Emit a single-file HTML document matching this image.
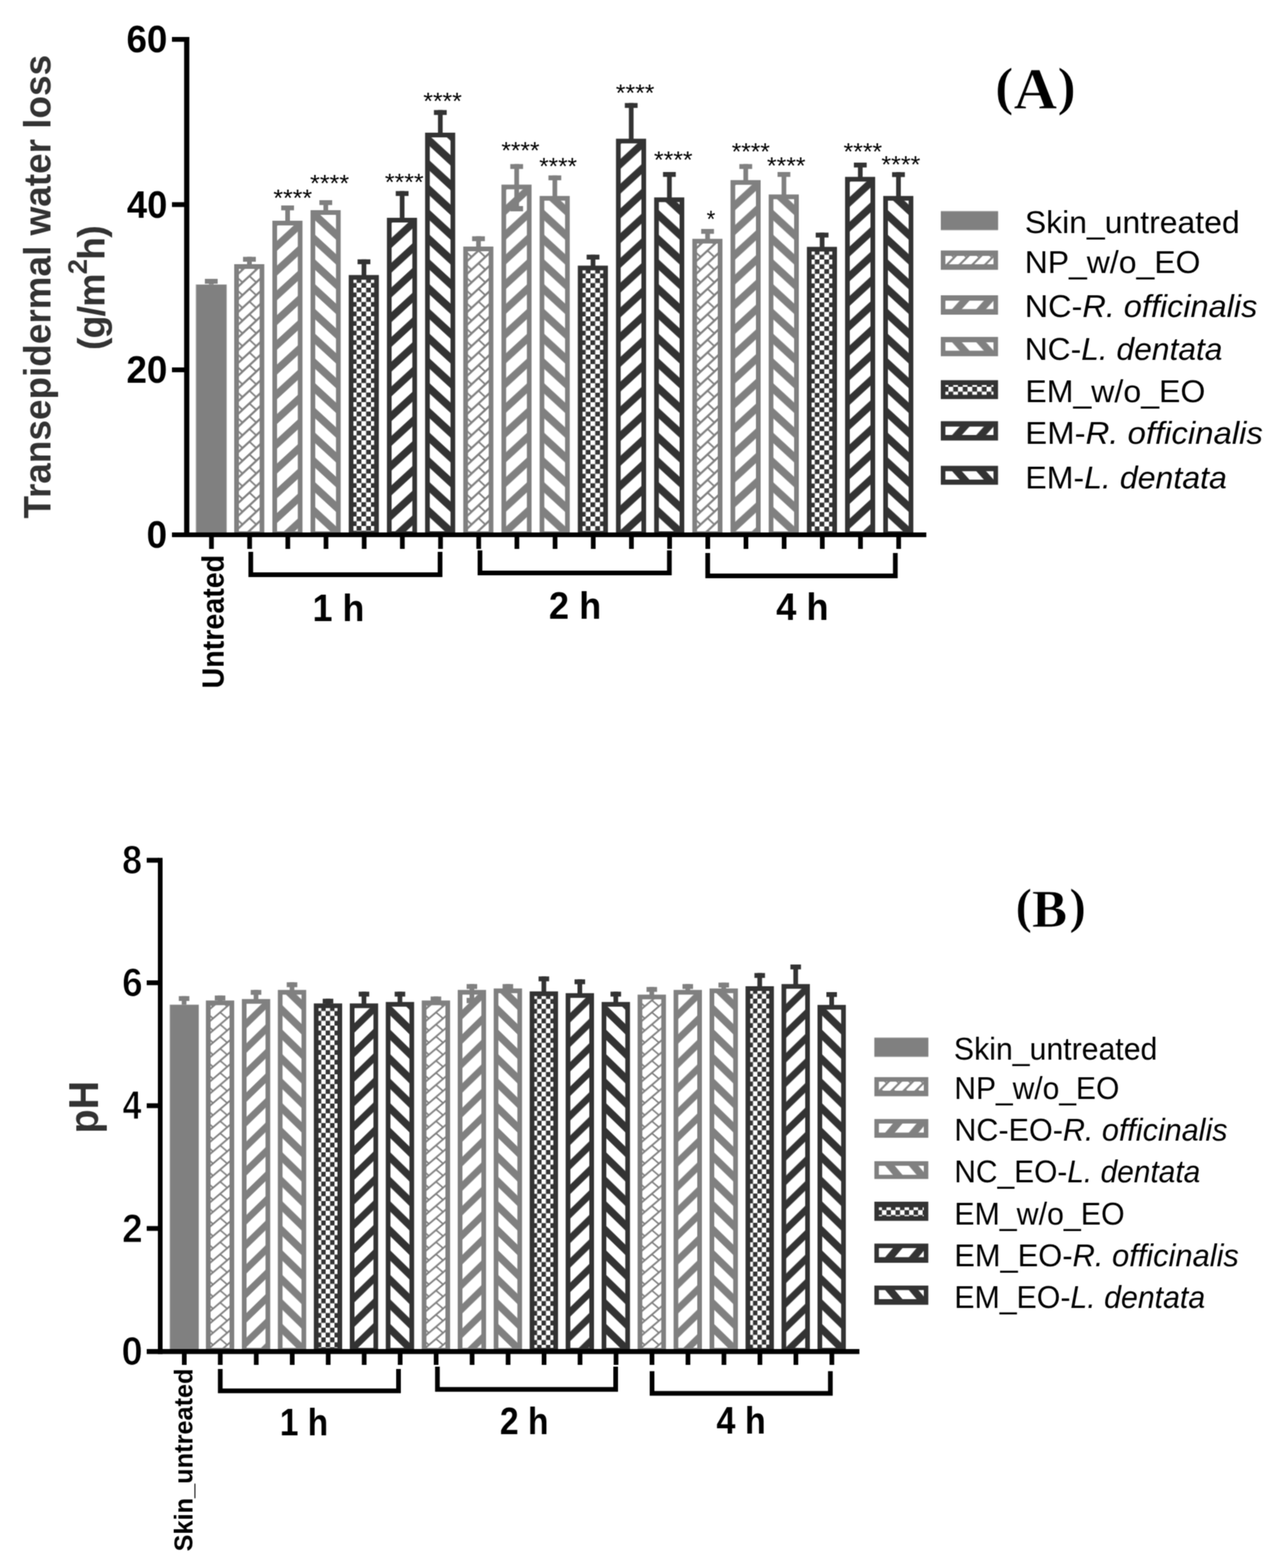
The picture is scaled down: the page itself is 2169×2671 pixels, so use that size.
<!DOCTYPE html>
<html lang="en"><head><meta charset="utf-8"><title>Transepidermal water loss and pH</title>
<style>html,body{margin:0;padding:0;background:#fff}body{width:2169px;height:2671px;overflow:hidden}svg{display:block}text{white-space:pre}</style>
</head><body>
<svg width="2169" height="2671" viewBox="0 0 2169 2671">
<defs>
<filter id="soft" x="0" y="0" width="2169" height="2671" filterUnits="userSpaceOnUse" color-interpolation-filters="sRGB"><feConvolveMatrix order="3" kernelMatrix="1 2 1 2 4 2 1 2 1" divisor="16" edgeMode="duplicate" preserveAlpha="true"/></filter>
<pattern id="upGA" patternUnits="userSpaceOnUse" width="45.8" height="42.15"><rect width="45.8" height="42.15" fill="#fff"/><g fill="#808080"><polygon points="-46.49,-42.15 -28.17,-42.15 -165.57,84.30 -183.89,84.30"/><polygon points="-0.69,-42.15 17.63,-42.15 -119.77,84.30 -138.09,84.30"/><polygon points="45.11,-42.15 63.43,-42.15 -73.97,84.30 -92.29,84.30"/><polygon points="90.91,-42.15 109.23,-42.15 -28.17,84.30 -46.49,84.30"/><polygon points="136.71,-42.15 155.03,-42.15 17.63,84.30 -0.69,84.30"/><polygon points="182.51,-42.15 200.83,-42.15 63.43,84.30 45.11,84.30"/></g></pattern>
<pattern id="downGA" patternUnits="userSpaceOnUse" width="45.8" height="42.15"><rect width="45.8" height="42.15" fill="#fff"/><g fill="#808080"><polygon points="-45.80,-178.93 -45.80,-161.22 91.60,-34.77 91.60,-52.48"/><polygon points="-45.80,-136.78 -45.80,-119.07 91.60,7.38 91.60,-10.33"/><polygon points="-45.80,-94.63 -45.80,-76.92 91.60,49.53 91.60,31.82"/><polygon points="-45.80,-52.48 -45.80,-34.77 91.60,91.68 91.60,73.97"/><polygon points="-45.80,-10.33 -45.80,7.38 91.60,133.83 91.60,116.12"/><polygon points="-45.80,31.82 -45.80,49.53 91.60,175.98 91.60,158.27"/></g></pattern>
<pattern id="upGAL" patternUnits="userSpaceOnUse" width="41.2" height="45.8"><rect width="41.2" height="45.8" fill="#fff"/><g fill="#808080"><polygon points="-16.87,-45.80 -0.19,-45.80 -123.79,91.60 -140.47,91.60"/><polygon points="24.33,-45.80 41.01,-45.80 -82.59,91.60 -99.27,91.60"/><polygon points="65.53,-45.80 82.21,-45.80 -41.39,91.60 -58.07,91.60"/><polygon points="106.73,-45.80 123.41,-45.80 -0.19,91.60 -16.87,91.60"/><polygon points="147.93,-45.80 164.61,-45.80 41.01,91.60 24.33,91.60"/><polygon points="189.13,-45.80 205.81,-45.80 82.21,91.60 65.53,91.60"/></g></pattern>
<pattern id="downGAL" patternUnits="userSpaceOnUse" width="41.2" height="45.8"><rect width="41.2" height="45.8" fill="#fff"/><g fill="#808080"><polygon points="-41.20,-182.99 -41.20,-164.44 82.40,-27.04 82.40,-45.59"/><polygon points="-41.20,-137.19 -41.20,-118.64 82.40,18.76 82.40,0.21"/><polygon points="-41.20,-91.39 -41.20,-72.84 82.40,64.56 82.40,46.01"/><polygon points="-41.20,-45.59 -41.20,-27.04 82.40,110.36 82.40,91.81"/><polygon points="-41.20,0.21 -41.20,18.76 82.40,156.16 82.40,137.61"/><polygon points="-41.20,46.01 -41.20,64.56 82.40,201.96 82.40,183.41"/></g></pattern>
<pattern id="upGB" patternUnits="userSpaceOnUse" width="42.75" height="41.77"><rect width="42.75" height="41.77" fill="#fff"/><g fill="#808080"><polygon points="-43.28,-41.77 -26.83,-41.77 -155.08,83.54 -171.53,83.54"/><polygon points="-0.53,-41.77 15.92,-41.77 -112.33,83.54 -128.78,83.54"/><polygon points="42.22,-41.77 58.67,-41.77 -69.58,83.54 -86.03,83.54"/><polygon points="84.97,-41.77 101.42,-41.77 -26.83,83.54 -43.28,83.54"/><polygon points="127.72,-41.77 144.17,-41.77 15.92,83.54 -0.53,83.54"/><polygon points="170.47,-41.77 186.92,-41.77 58.67,83.54 42.22,83.54"/></g></pattern>
<pattern id="downGB" patternUnits="userSpaceOnUse" width="42.75" height="41.77"><rect width="42.75" height="41.77" fill="#fff"/><g fill="#808080"><polygon points="-42.75,-177.52 -42.75,-159.98 85.50,-34.67 85.50,-52.21"/><polygon points="-42.75,-135.75 -42.75,-118.21 85.50,7.10 85.50,-10.44"/><polygon points="-42.75,-93.98 -42.75,-76.44 85.50,48.87 85.50,31.33"/><polygon points="-42.75,-52.21 -42.75,-34.67 85.50,90.64 85.50,73.10"/><polygon points="-42.75,-10.44 -42.75,7.10 85.50,132.41 85.50,114.87"/><polygon points="-42.75,31.33 -42.75,48.87 85.50,174.18 85.50,156.64"/></g></pattern>
<pattern id="upGBL" patternUnits="userSpaceOnUse" width="40.3" height="47.9"><rect width="40.3" height="47.9" fill="#fff"/><g fill="#808080"><polygon points="-16.50,-47.90 -0.18,-47.90 -121.08,95.80 -137.40,95.80"/><polygon points="23.80,-47.90 40.12,-47.90 -80.78,95.80 -97.10,95.80"/><polygon points="64.10,-47.90 80.42,-47.90 -40.48,95.80 -56.80,95.80"/><polygon points="104.40,-47.90 120.72,-47.90 -0.18,95.80 -16.50,95.80"/><polygon points="144.70,-47.90 161.02,-47.90 40.12,95.80 23.80,95.80"/><polygon points="185.00,-47.90 201.32,-47.90 80.42,95.80 64.10,95.80"/></g></pattern>
<pattern id="downGBL" patternUnits="userSpaceOnUse" width="40.3" height="47.9"><rect width="40.3" height="47.9" fill="#fff"/><g fill="#808080"><polygon points="-40.30,-191.38 -40.30,-171.98 80.60,-28.28 80.60,-47.68"/><polygon points="-40.30,-143.48 -40.30,-124.08 80.60,19.62 80.60,0.22"/><polygon points="-40.30,-95.58 -40.30,-76.18 80.60,67.52 80.60,48.12"/><polygon points="-40.30,-47.68 -40.30,-28.28 80.60,115.42 80.60,96.02"/><polygon points="-40.30,0.22 -40.30,19.62 80.60,163.32 80.60,143.92"/><polygon points="-40.30,48.12 -40.30,67.52 80.60,211.22 80.60,191.82"/></g></pattern>
<pattern id="upDA" patternUnits="userSpaceOnUse" width="45.8" height="42.15"><rect width="45.8" height="42.15" fill="#fff"/><g fill="#333333"><polygon points="-46.49,-42.15 -28.17,-42.15 -165.57,84.30 -183.89,84.30"/><polygon points="-0.69,-42.15 17.63,-42.15 -119.77,84.30 -138.09,84.30"/><polygon points="45.11,-42.15 63.43,-42.15 -73.97,84.30 -92.29,84.30"/><polygon points="90.91,-42.15 109.23,-42.15 -28.17,84.30 -46.49,84.30"/><polygon points="136.71,-42.15 155.03,-42.15 17.63,84.30 -0.69,84.30"/><polygon points="182.51,-42.15 200.83,-42.15 63.43,84.30 45.11,84.30"/></g></pattern>
<pattern id="downDA" patternUnits="userSpaceOnUse" width="45.8" height="42.15"><rect width="45.8" height="42.15" fill="#fff"/><g fill="#333333"><polygon points="-45.80,-178.93 -45.80,-161.22 91.60,-34.77 91.60,-52.48"/><polygon points="-45.80,-136.78 -45.80,-119.07 91.60,7.38 91.60,-10.33"/><polygon points="-45.80,-94.63 -45.80,-76.92 91.60,49.53 91.60,31.82"/><polygon points="-45.80,-52.48 -45.80,-34.77 91.60,91.68 91.60,73.97"/><polygon points="-45.80,-10.33 -45.80,7.38 91.60,133.83 91.60,116.12"/><polygon points="-45.80,31.82 -45.80,49.53 91.60,175.98 91.60,158.27"/></g></pattern>
<pattern id="upDAL" patternUnits="userSpaceOnUse" width="41.2" height="45.8"><rect width="41.2" height="45.8" fill="#fff"/><g fill="#333333"><polygon points="-16.87,-45.80 -0.19,-45.80 -123.79,91.60 -140.47,91.60"/><polygon points="24.33,-45.80 41.01,-45.80 -82.59,91.60 -99.27,91.60"/><polygon points="65.53,-45.80 82.21,-45.80 -41.39,91.60 -58.07,91.60"/><polygon points="106.73,-45.80 123.41,-45.80 -0.19,91.60 -16.87,91.60"/><polygon points="147.93,-45.80 164.61,-45.80 41.01,91.60 24.33,91.60"/><polygon points="189.13,-45.80 205.81,-45.80 82.21,91.60 65.53,91.60"/></g></pattern>
<pattern id="downDAL" patternUnits="userSpaceOnUse" width="41.2" height="45.8"><rect width="41.2" height="45.8" fill="#fff"/><g fill="#333333"><polygon points="-41.20,-182.99 -41.20,-164.44 82.40,-27.04 82.40,-45.59"/><polygon points="-41.20,-137.19 -41.20,-118.64 82.40,18.76 82.40,0.21"/><polygon points="-41.20,-91.39 -41.20,-72.84 82.40,64.56 82.40,46.01"/><polygon points="-41.20,-45.59 -41.20,-27.04 82.40,110.36 82.40,91.81"/><polygon points="-41.20,0.21 -41.20,18.76 82.40,156.16 82.40,137.61"/><polygon points="-41.20,46.01 -41.20,64.56 82.40,201.96 82.40,183.41"/></g></pattern>
<pattern id="upDB" patternUnits="userSpaceOnUse" width="42.75" height="41.77"><rect width="42.75" height="41.77" fill="#fff"/><g fill="#333333"><polygon points="-43.28,-41.77 -26.83,-41.77 -155.08,83.54 -171.53,83.54"/><polygon points="-0.53,-41.77 15.92,-41.77 -112.33,83.54 -128.78,83.54"/><polygon points="42.22,-41.77 58.67,-41.77 -69.58,83.54 -86.03,83.54"/><polygon points="84.97,-41.77 101.42,-41.77 -26.83,83.54 -43.28,83.54"/><polygon points="127.72,-41.77 144.17,-41.77 15.92,83.54 -0.53,83.54"/><polygon points="170.47,-41.77 186.92,-41.77 58.67,83.54 42.22,83.54"/></g></pattern>
<pattern id="downDB" patternUnits="userSpaceOnUse" width="42.75" height="41.77"><rect width="42.75" height="41.77" fill="#fff"/><g fill="#333333"><polygon points="-42.75,-177.52 -42.75,-159.98 85.50,-34.67 85.50,-52.21"/><polygon points="-42.75,-135.75 -42.75,-118.21 85.50,7.10 85.50,-10.44"/><polygon points="-42.75,-93.98 -42.75,-76.44 85.50,48.87 85.50,31.33"/><polygon points="-42.75,-52.21 -42.75,-34.67 85.50,90.64 85.50,73.10"/><polygon points="-42.75,-10.44 -42.75,7.10 85.50,132.41 85.50,114.87"/><polygon points="-42.75,31.33 -42.75,48.87 85.50,174.18 85.50,156.64"/></g></pattern>
<pattern id="upDBL" patternUnits="userSpaceOnUse" width="40.3" height="47.9"><rect width="40.3" height="47.9" fill="#fff"/><g fill="#333333"><polygon points="-16.50,-47.90 -0.18,-47.90 -121.08,95.80 -137.40,95.80"/><polygon points="23.80,-47.90 40.12,-47.90 -80.78,95.80 -97.10,95.80"/><polygon points="64.10,-47.90 80.42,-47.90 -40.48,95.80 -56.80,95.80"/><polygon points="104.40,-47.90 120.72,-47.90 -0.18,95.80 -16.50,95.80"/><polygon points="144.70,-47.90 161.02,-47.90 40.12,95.80 23.80,95.80"/><polygon points="185.00,-47.90 201.32,-47.90 80.42,95.80 64.10,95.80"/></g></pattern>
<pattern id="downDBL" patternUnits="userSpaceOnUse" width="40.3" height="47.9"><rect width="40.3" height="47.9" fill="#fff"/><g fill="#333333"><polygon points="-40.30,-191.38 -40.30,-171.98 80.60,-28.28 80.60,-47.68"/><polygon points="-40.30,-143.48 -40.30,-124.08 80.60,19.62 80.60,0.22"/><polygon points="-40.30,-95.58 -40.30,-76.18 80.60,67.52 80.60,48.12"/><polygon points="-40.30,-47.68 -40.30,-28.28 80.60,115.42 80.60,96.02"/><polygon points="-40.30,0.22 -40.30,19.62 80.60,163.32 80.60,143.92"/><polygon points="-40.30,48.12 -40.30,67.52 80.60,211.22 80.60,191.82"/></g></pattern>
<pattern id="checkA" patternUnits="userSpaceOnUse" x="5.30" y="5.30" width="16.24" height="16.24"><rect width="16.24" height="16.24" fill="#fff"/><rect x="8.12" y="0" width="8.12" height="8.12" fill="#333333"/><rect x="0" y="8.12" width="8.12" height="8.12" fill="#333333"/></pattern>
<pattern id="checkB" patternUnits="userSpaceOnUse" x="5.20" y="4.60" width="15.0" height="16.6"><rect width="15.0" height="16.6" fill="#fff"/><rect x="7.5" y="0" width="7.5" height="8.3" fill="#333333"/><rect x="0" y="8.3" width="7.5" height="8.3" fill="#333333"/></pattern>
<pattern id="checkAL" patternUnits="userSpaceOnUse" x="5.20" y="3.00" width="16.24" height="16.4"><rect width="16.24" height="16.4" fill="#fff"/><rect x="8.12" y="0" width="8.12" height="8.2" fill="#333333"/><rect x="0" y="8.2" width="8.12" height="8.2" fill="#333333"/></pattern>
<pattern id="checkBL" patternUnits="userSpaceOnUse" x="5.20" y="4.80" width="15.4" height="16.6"><rect width="15.4" height="16.6" fill="#fff"/><rect x="7.7" y="0" width="7.7" height="8.3" fill="#333333"/><rect x="0" y="8.3" width="7.7" height="8.3" fill="#333333"/></pattern>
<pattern id="brickA" patternUnits="userSpaceOnUse" x="14.20" y="-15.60" width="23.4" height="21.7"><rect width="23.4" height="21.7" fill="#fff"/><g stroke="#808080" stroke-width="3.5"><line x1="-23.40" y1="21.70" x2="46.80" y2="-43.40"/><line x1="-23.40" y1="43.40" x2="46.80" y2="-21.70"/><line x1="-23.40" y1="65.10" x2="46.80" y2="0.00"/><line x1="-23.40" y1="86.80" x2="46.80" y2="21.70"/></g><g stroke="#808080" stroke-width="3.0"><line x1="-11.70" y1="-10.85" x2="0.00" y2="0.00"/><line x1="-11.70" y1="10.85" x2="0.00" y2="21.70"/><line x1="-11.70" y1="32.55" x2="0.00" y2="43.40"/><line x1="11.70" y1="-10.85" x2="23.40" y2="0.00"/><line x1="11.70" y1="10.85" x2="23.40" y2="21.70"/><line x1="11.70" y1="32.55" x2="23.40" y2="43.40"/><line x1="35.10" y1="-10.85" x2="46.80" y2="0.00"/><line x1="35.10" y1="10.85" x2="46.80" y2="21.70"/><line x1="35.10" y1="32.55" x2="46.80" y2="43.40"/></g></pattern>
<pattern id="brickB" patternUnits="userSpaceOnUse" x="12.25" y="11.60" width="24.1" height="20.6"><rect width="24.1" height="20.6" fill="#fff"/><g stroke="#808080" stroke-width="3.0"><line x1="-24.10" y1="20.60" x2="48.20" y2="-41.20"/><line x1="-24.10" y1="41.20" x2="48.20" y2="-20.60"/><line x1="-24.10" y1="61.80" x2="48.20" y2="0.00"/><line x1="-24.10" y1="82.40" x2="48.20" y2="20.60"/></g><g stroke="#808080" stroke-width="2.7"><line x1="-12.05" y1="-10.30" x2="0.00" y2="0.00"/><line x1="-12.05" y1="10.30" x2="0.00" y2="20.60"/><line x1="-12.05" y1="30.90" x2="0.00" y2="41.20"/><line x1="12.05" y1="-10.30" x2="24.10" y2="0.00"/><line x1="12.05" y1="10.30" x2="24.10" y2="20.60"/><line x1="12.05" y1="30.90" x2="24.10" y2="41.20"/><line x1="36.15" y1="-10.30" x2="48.20" y2="0.00"/><line x1="36.15" y1="10.30" x2="48.20" y2="20.60"/><line x1="36.15" y1="30.90" x2="48.20" y2="41.20"/></g></pattern>
<pattern id="brickAL" patternUnits="userSpaceOnUse" x="-7.00" y="3.00" width="21.65" height="21.65"><rect width="21.65" height="21.65" fill="#fff"/><g stroke="#808080" stroke-width="3.4"><line x1="-21.65" y1="21.65" x2="43.30" y2="-43.30"/><line x1="-21.65" y1="43.30" x2="43.30" y2="-21.65"/><line x1="-21.65" y1="64.95" x2="43.30" y2="0.00"/><line x1="-21.65" y1="86.60" x2="43.30" y2="21.65"/></g><g stroke="#808080" stroke-width="2.4"><line x1="-10.82" y1="-10.82" x2="0.00" y2="0.00"/><line x1="-10.82" y1="10.82" x2="0.00" y2="21.65"/><line x1="-10.82" y1="32.47" x2="0.00" y2="43.30"/><line x1="10.82" y1="-10.82" x2="21.65" y2="0.00"/><line x1="10.82" y1="10.82" x2="21.65" y2="21.65"/><line x1="10.82" y1="32.47" x2="21.65" y2="43.30"/><line x1="32.47" y1="-10.82" x2="43.30" y2="0.00"/><line x1="32.47" y1="10.82" x2="43.30" y2="21.65"/><line x1="32.47" y1="32.47" x2="43.30" y2="43.30"/></g></pattern>
<pattern id="brickBL" patternUnits="userSpaceOnUse" x="-7.00" y="3.00" width="20.6" height="20.6"><rect width="20.6" height="20.6" fill="#fff"/><g stroke="#808080" stroke-width="3.4"><line x1="-20.60" y1="20.60" x2="41.20" y2="-41.20"/><line x1="-20.60" y1="41.20" x2="41.20" y2="-20.60"/><line x1="-20.60" y1="61.80" x2="41.20" y2="0.00"/><line x1="-20.60" y1="82.40" x2="41.20" y2="20.60"/></g><g stroke="#808080" stroke-width="2.4"><line x1="-10.30" y1="-10.30" x2="0.00" y2="0.00"/><line x1="-10.30" y1="10.30" x2="0.00" y2="20.60"/><line x1="-10.30" y1="30.90" x2="0.00" y2="41.20"/><line x1="10.30" y1="-10.30" x2="20.60" y2="0.00"/><line x1="10.30" y1="10.30" x2="20.60" y2="20.60"/><line x1="10.30" y1="30.90" x2="20.60" y2="41.20"/><line x1="30.90" y1="-10.30" x2="41.20" y2="0.00"/><line x1="30.90" y1="10.30" x2="41.20" y2="20.60"/><line x1="30.90" y1="30.90" x2="41.20" y2="41.20"/></g></pattern>
</defs>
<g filter="url(#soft)">
<rect width="2169" height="2671" fill="#fff"/>
<g id="chartA">
<rect x="355.95" y="475.00" width="8.0" height="12.00" fill="#808080"/>
<rect x="349.05" y="475.00" width="21.8" height="8.3" fill="#808080"/>
<rect x="333.40" y="484.50" width="53.10" height="424.50" fill="#b4b4b4"/>
<rect x="334.60" y="485.00" width="51.10" height="424.00" fill="#808080"/>
<rect x="421.00" y="437.50" width="8.0" height="14.50" fill="#808080"/>
<rect x="414.10" y="437.50" width="21.8" height="8.3" fill="#808080"/>
<g transform="translate(399.05 909.00)"><rect x="4.00" y="-455.00" width="43.30" height="455.00" fill="url(#brickA)" stroke="#808080" stroke-width="8.0"/></g>
<rect x="486.05" y="350.00" width="8.0" height="28.00" fill="#808080"/>
<rect x="479.15" y="350.00" width="21.8" height="8.3" fill="#808080"/>
<g transform="translate(464.10 376.00)"><rect x="4.00" y="4.00" width="43.30" height="529.00" fill="url(#upGA)" stroke="#808080" stroke-width="8.0"/></g>
<rect x="551.10" y="341.00" width="8.0" height="19.00" fill="#808080"/>
<rect x="544.20" y="341.00" width="21.8" height="8.3" fill="#808080"/>
<g transform="translate(529.15 909.00)"><rect x="4.00" y="-547.00" width="43.30" height="547.00" fill="url(#downGA)" stroke="#808080" stroke-width="8.0"/></g>
<rect x="616.15" y="441.80" width="8.0" height="28.70" fill="#333333"/>
<rect x="609.25" y="441.80" width="21.8" height="8.3" fill="#333333"/>
<g transform="translate(594.20 468.50)"><rect x="4.00" y="4.00" width="43.30" height="436.50" fill="url(#checkA)" stroke="#333333" stroke-width="8.0"/></g>
<rect x="681.20" y="325.50" width="8.0" height="47.50" fill="#333333"/>
<rect x="674.30" y="325.50" width="21.8" height="8.3" fill="#333333"/>
<g transform="translate(659.25 371.00)"><rect x="4.00" y="4.00" width="43.30" height="534.00" fill="url(#upDA)" stroke="#333333" stroke-width="8.0"/></g>
<rect x="746.25" y="187.50" width="8.0" height="40.50" fill="#333333"/>
<rect x="739.35" y="187.50" width="21.8" height="8.3" fill="#333333"/>
<g transform="translate(724.30 909.00)"><rect x="4.00" y="-679.00" width="43.30" height="679.00" fill="url(#downDA)" stroke="#333333" stroke-width="8.0"/></g>
<rect x="811.30" y="402.50" width="8.0" height="19.50" fill="#808080"/>
<rect x="804.40" y="402.50" width="21.8" height="8.3" fill="#808080"/>
<g transform="translate(789.35 909.00)"><rect x="4.00" y="-485.00" width="43.30" height="485.00" fill="url(#brickA)" stroke="#808080" stroke-width="8.0"/></g>
<rect x="876.35" y="279.50" width="8.0" height="37.00" fill="#808080"/>
<rect x="869.45" y="279.50" width="21.8" height="8.3" fill="#808080"/>
<g transform="translate(854.40 314.50)"><rect x="4.00" y="4.00" width="43.30" height="590.50" fill="url(#upGA)" stroke="#808080" stroke-width="8.0"/></g>
<rect x="876.35" y="314.50" width="8.0" height="45.50" fill="#808080"/>
<rect x="869.45" y="351.00" width="21.8" height="9.0" fill="#808080"/>
<rect x="941.40" y="298.80" width="8.0" height="37.00" fill="#808080"/>
<rect x="934.50" y="298.80" width="21.8" height="8.3" fill="#808080"/>
<g transform="translate(919.45 909.00)"><rect x="4.00" y="-571.20" width="43.30" height="571.20" fill="url(#downGA)" stroke="#808080" stroke-width="8.0"/></g>
<rect x="1006.45" y="433.80" width="8.0" height="20.70" fill="#333333"/>
<rect x="999.55" y="433.80" width="21.8" height="8.3" fill="#333333"/>
<g transform="translate(984.50 452.50)"><rect x="4.00" y="4.00" width="43.30" height="452.50" fill="url(#checkA)" stroke="#333333" stroke-width="8.0"/></g>
<rect x="1071.50" y="175.50" width="8.0" height="62.80" fill="#333333"/>
<rect x="1064.60" y="175.50" width="21.8" height="8.3" fill="#333333"/>
<g transform="translate(1049.55 236.30)"><rect x="4.00" y="4.00" width="43.30" height="668.70" fill="url(#upDA)" stroke="#333333" stroke-width="8.0"/></g>
<rect x="1136.55" y="293.00" width="8.0" height="45.30" fill="#333333"/>
<rect x="1129.65" y="293.00" width="21.8" height="8.3" fill="#333333"/>
<g transform="translate(1114.60 909.00)"><rect x="4.00" y="-568.70" width="43.30" height="568.70" fill="url(#downDA)" stroke="#333333" stroke-width="8.0"/></g>
<rect x="1201.60" y="390.00" width="8.0" height="18.80" fill="#808080"/>
<rect x="1194.70" y="390.00" width="21.8" height="8.3" fill="#808080"/>
<g transform="translate(1179.65 909.00)"><rect x="4.00" y="-498.20" width="43.30" height="498.20" fill="url(#brickA)" stroke="#808080" stroke-width="8.0"/></g>
<rect x="1266.65" y="279.50" width="8.0" height="29.30" fill="#808080"/>
<rect x="1259.75" y="279.50" width="21.8" height="8.3" fill="#808080"/>
<g transform="translate(1244.70 306.80)"><rect x="4.00" y="4.00" width="43.30" height="598.20" fill="url(#upGA)" stroke="#808080" stroke-width="8.0"/></g>
<rect x="1331.70" y="293.00" width="8.0" height="40.30" fill="#808080"/>
<rect x="1324.80" y="293.00" width="21.8" height="8.3" fill="#808080"/>
<g transform="translate(1309.75 909.00)"><rect x="4.00" y="-573.70" width="43.30" height="573.70" fill="url(#downGA)" stroke="#808080" stroke-width="8.0"/></g>
<rect x="1396.75" y="396.30" width="8.0" height="26.20" fill="#333333"/>
<rect x="1389.85" y="396.30" width="21.8" height="8.3" fill="#333333"/>
<g transform="translate(1374.80 420.50)"><rect x="4.00" y="4.00" width="43.30" height="484.50" fill="url(#checkA)" stroke="#333333" stroke-width="8.0"/></g>
<rect x="1461.80" y="277.00" width="8.0" height="26.30" fill="#333333"/>
<rect x="1454.90" y="277.00" width="21.8" height="8.3" fill="#333333"/>
<g transform="translate(1439.85 301.30)"><rect x="4.00" y="4.00" width="43.30" height="603.70" fill="url(#upDA)" stroke="#333333" stroke-width="8.0"/></g>
<rect x="1526.85" y="293.30" width="8.0" height="42.50" fill="#333333"/>
<rect x="1519.95" y="293.30" width="21.8" height="8.3" fill="#333333"/>
<g transform="translate(1504.90 909.00)"><rect x="4.00" y="-571.20" width="43.30" height="571.20" fill="url(#downDA)" stroke="#333333" stroke-width="8.0"/></g>
<rect x="313.70" y="63.00" width="8.90" height="852.00" fill="#000"/>
<rect x="293.00" y="907.00" width="1285.30" height="8.00" fill="#000"/>
<rect x="293.00" y="63.00" width="23.00" height="8.20" fill="#000"/>
<rect x="293.00" y="344.40" width="23.00" height="8.20" fill="#000"/>
<rect x="293.00" y="625.90" width="23.00" height="8.20" fill="#000"/>
<rect x="356.30" y="914.00" width="8.00" height="21.00" fill="#000"/>
<rect x="421.35" y="914.00" width="8.00" height="21.00" fill="#000"/>
<rect x="486.40" y="914.00" width="8.00" height="21.00" fill="#000"/>
<rect x="551.45" y="914.00" width="8.00" height="21.00" fill="#000"/>
<rect x="616.50" y="914.00" width="8.00" height="21.00" fill="#000"/>
<rect x="681.55" y="914.00" width="8.00" height="21.00" fill="#000"/>
<rect x="746.60" y="914.00" width="8.00" height="21.00" fill="#000"/>
<rect x="811.65" y="914.00" width="8.00" height="21.00" fill="#000"/>
<rect x="876.70" y="914.00" width="8.00" height="21.00" fill="#000"/>
<rect x="941.75" y="914.00" width="8.00" height="21.00" fill="#000"/>
<rect x="1006.80" y="914.00" width="8.00" height="21.00" fill="#000"/>
<rect x="1071.85" y="914.00" width="8.00" height="21.00" fill="#000"/>
<rect x="1136.90" y="914.00" width="8.00" height="21.00" fill="#000"/>
<rect x="1201.95" y="914.00" width="8.00" height="21.00" fill="#000"/>
<rect x="1267.00" y="914.00" width="8.00" height="21.00" fill="#000"/>
<rect x="1332.05" y="914.00" width="8.00" height="21.00" fill="#000"/>
<rect x="1397.10" y="914.00" width="8.00" height="21.00" fill="#000"/>
<rect x="1462.15" y="914.00" width="8.00" height="21.00" fill="#000"/>
<rect x="1527.20" y="914.00" width="8.00" height="21.00" fill="#000"/>
<text x="215.39" y="89.40" font-family="'Liberation Sans', Arial, Helvetica, sans-serif" font-size="65.5" font-weight="bold" fill="#000" textLength="69.75" lengthAdjust="spacingAndGlyphs">60</text>
<text x="216.36" y="370.80" font-family="'Liberation Sans', Arial, Helvetica, sans-serif" font-size="65.5" font-weight="bold" fill="#000" textLength="68.74" lengthAdjust="spacingAndGlyphs">40</text>
<text x="215.39" y="652.30" font-family="'Liberation Sans', Arial, Helvetica, sans-serif" font-size="65.5" font-weight="bold" fill="#000" textLength="69.75" lengthAdjust="spacingAndGlyphs">20</text>
<text x="249.72" y="933.30" font-family="'Liberation Sans', Arial, Helvetica, sans-serif" font-size="65.5" font-weight="bold" fill="#000" textLength="35.03" lengthAdjust="spacingAndGlyphs">0</text>
<text transform="translate(86.30 883.28) rotate(-90)" x="0" y="0" font-family="'Liberation Sans', Arial, Helvetica, sans-serif" font-size="64" font-weight="bold" fill="#333" textLength="789.64" lengthAdjust="spacingAndGlyphs">Transepidermal water loss</text>
<text x="0" y="0" transform="translate(177.50 490.00) rotate(-90)" font-family="'Liberation Sans', Arial, Helvetica, sans-serif" font-size="64" font-weight="bold" text-anchor="middle" fill="#333" textLength="212.50" lengthAdjust="spacing">(g/m<tspan font-size="47" dy="-30">2</tspan><tspan dy="30">h)</tspan></text>
<text transform="translate(381.00 1172.67) rotate(-90)" x="0" y="0" font-family="'Liberation Sans', Arial, Helvetica, sans-serif" font-size="51" font-weight="bold" fill="#000" textLength="227.58" lengthAdjust="spacingAndGlyphs">Untreated</text>
<path d="M427.30 940.00 V979.00 H749.80 V940.00" fill="none" stroke="#000" stroke-width="8.0" stroke-linejoin="miter"/>
<path d="M817.80 937.50 V976.00 H1140.50 V937.50" fill="none" stroke="#000" stroke-width="8.0" stroke-linejoin="miter"/>
<path d="M1205.80 942.00 V981.00 H1525.50 V942.00" fill="none" stroke="#000" stroke-width="8.0" stroke-linejoin="miter"/>
<text x="532.41" y="1058.20" font-family="'Liberation Sans', Arial, Helvetica, sans-serif" font-size="64.5" font-weight="bold" fill="#000" textLength="88.38" lengthAdjust="spacingAndGlyphs">1 h</text>
<text x="935.29" y="1054.00" font-family="'Liberation Sans', Arial, Helvetica, sans-serif" font-size="64.5" font-weight="bold" fill="#000" textLength="89.13" lengthAdjust="spacingAndGlyphs">2 h</text>
<text x="1322.44" y="1056.00" font-family="'Liberation Sans', Arial, Helvetica, sans-serif" font-size="64.5" font-weight="bold" fill="#000" textLength="89.39" lengthAdjust="spacingAndGlyphs">4 h</text>
<text x="465.66" y="350.70" font-family="'Liberation Sans', Arial, Helvetica, sans-serif" font-size="41" font-weight="normal" fill="#000" textLength="66.09" lengthAdjust="spacingAndGlyphs">****</text>
<text x="528.36" y="326.40" font-family="'Liberation Sans', Arial, Helvetica, sans-serif" font-size="41" font-weight="normal" fill="#000" textLength="66.50" lengthAdjust="spacingAndGlyphs">****</text>
<text x="655.76" y="323.90" font-family="'Liberation Sans', Arial, Helvetica, sans-serif" font-size="41" font-weight="normal" fill="#000" textLength="66.09" lengthAdjust="spacingAndGlyphs">****</text>
<text x="721.27" y="186.10" font-family="'Liberation Sans', Arial, Helvetica, sans-serif" font-size="41" font-weight="normal" fill="#000" textLength="65.58" lengthAdjust="spacingAndGlyphs">****</text>
<text x="854.28" y="269.90" font-family="'Liberation Sans', Arial, Helvetica, sans-serif" font-size="41" font-weight="normal" fill="#000" textLength="65.06" lengthAdjust="spacingAndGlyphs">****</text>
<text x="918.79" y="296.90" font-family="'Liberation Sans', Arial, Helvetica, sans-serif" font-size="41" font-weight="normal" fill="#000" textLength="64.24" lengthAdjust="spacingAndGlyphs">****</text>
<text x="1049.27" y="171.90" font-family="'Liberation Sans', Arial, Helvetica, sans-serif" font-size="41" font-weight="normal" fill="#000" textLength="65.78" lengthAdjust="spacingAndGlyphs">****</text>
<text x="1114.27" y="286.10" font-family="'Liberation Sans', Arial, Helvetica, sans-serif" font-size="41" font-weight="normal" fill="#000" textLength="65.78" lengthAdjust="spacingAndGlyphs">****</text>
<text x="1203.88" y="386.90" font-family="'Liberation Sans', Arial, Helvetica, sans-serif" font-size="41" font-weight="normal" fill="#000" textLength="14.71" lengthAdjust="spacingAndGlyphs">*</text>
<text x="1246.78" y="272.40" font-family="'Liberation Sans', Arial, Helvetica, sans-serif" font-size="41" font-weight="normal" fill="#000" textLength="65.06" lengthAdjust="spacingAndGlyphs">****</text>
<text x="1306.77" y="295.60" font-family="'Liberation Sans', Arial, Helvetica, sans-serif" font-size="41" font-weight="normal" fill="#000" textLength="65.78" lengthAdjust="spacingAndGlyphs">****</text>
<text x="1437.27" y="272.10" font-family="'Liberation Sans', Arial, Helvetica, sans-serif" font-size="41" font-weight="normal" fill="#000" textLength="65.78" lengthAdjust="spacingAndGlyphs">****</text>
<text x="1501.76" y="293.90" font-family="'Liberation Sans', Arial, Helvetica, sans-serif" font-size="41" font-weight="normal" fill="#000" textLength="66.30" lengthAdjust="spacingAndGlyphs">****</text>
<rect x="1603.00" y="359.30" width="97.50" height="33.10" fill="#b4b4b4"/>
<rect x="1603.00" y="360.30" width="97.50" height="31.10" fill="#808080"/>
<text x="1746.20" y="397.00" font-family="'Liberation Sans', Arial, Helvetica, sans-serif" font-size="54.4" font-weight="normal" fill="#000" textLength="365.99" lengthAdjust="spacingAndGlyphs">Skin_untreated</text>
<rect x="1603.00" y="426.70" width="97.50" height="32.90" fill="#808080"/>
<g transform="translate(1610.80 435.90)"><rect x="0" y="0" width="81.90" height="14.30" fill="url(#brickAL)"/></g>
<text x="1746.00" y="464.70" font-family="'Liberation Sans', Arial, Helvetica, sans-serif" font-size="54.4" font-weight="normal" fill="#000" textLength="299.30" lengthAdjust="spacingAndGlyphs">NP_w/o_EO</text>
<rect x="1603.00" y="503.00" width="97.50" height="33.00" fill="#808080"/>
<g transform="translate(1610.80 512.20)"><rect x="0" y="0" width="81.90" height="14.30" fill="url(#upGAL)"/></g>
<text x="1745.93" y="540.20" font-family="'Liberation Sans', Arial, Helvetica, sans-serif" font-size="54.4" font-weight="normal" fill="#000" textLength="396.36" lengthAdjust="spacingAndGlyphs">NC-<tspan font-style="italic">R. officinalis</tspan></text>
<rect x="1603.00" y="573.90" width="97.50" height="32.90" fill="#808080"/>
<g transform="translate(1610.80 597.40)"><rect x="0" y="-14.30" width="81.90" height="14.30" fill="url(#downGAL)"/></g>
<text x="1746.02" y="612.50" font-family="'Liberation Sans', Arial, Helvetica, sans-serif" font-size="54.4" font-weight="normal" fill="#000" textLength="336.90" lengthAdjust="spacingAndGlyphs">NC-<tspan font-style="italic">L. dentata</tspan></text>
<rect x="1603.00" y="647.60" width="97.50" height="32.20" fill="#333333"/>
<g transform="translate(1610.80 655.90)"><rect x="0" y="0" width="81.90" height="16.50" fill="url(#checkAL)"/></g>
<text x="1746.98" y="684.70" font-family="'Liberation Sans', Arial, Helvetica, sans-serif" font-size="54.4" font-weight="normal" fill="#000" textLength="306.84" lengthAdjust="spacingAndGlyphs">EM_w/o_EO</text>
<rect x="1603.00" y="717.50" width="97.50" height="32.90" fill="#333333"/>
<g transform="translate(1610.80 726.70)"><rect x="0" y="0" width="81.90" height="14.30" fill="url(#upDAL)"/></g>
<text x="1746.88" y="756.00" font-family="'Liberation Sans', Arial, Helvetica, sans-serif" font-size="54.4" font-weight="normal" fill="#000" textLength="404.96" lengthAdjust="spacingAndGlyphs">EM-<tspan font-style="italic">R. officinalis</tspan></text>
<rect x="1603.00" y="793.50" width="97.50" height="32.20" fill="#333333"/>
<g transform="translate(1610.80 817.00)"><rect x="0" y="-14.30" width="81.90" height="14.30" fill="url(#downDAL)"/></g>
<text x="1746.98" y="831.60" font-family="'Liberation Sans', Arial, Helvetica, sans-serif" font-size="54.4" font-weight="normal" fill="#000" textLength="343.49" lengthAdjust="spacingAndGlyphs">EM-<tspan font-style="italic">L. dentata</tspan></text>
<text transform="translate(1695.5 184.7) scale(1.043 1)" x="0" y="0" font-family="'Liberation Serif', 'Times New Roman', Times, serif" font-weight="bold" font-size="98.6" stroke="#fff" stroke-width="1"><tspan font-size="90" dy="-7.2">(</tspan><tspan dy="7.2" dx="0.3">A</tspan><tspan font-size="90" dy="-7.2" dx="0.5">)</tspan></text>
</g>
<g id="chartB">
<rect x="309.65" y="1696.80" width="8.0" height="17.00" fill="#808080"/>
<rect x="304.65" y="1696.80" width="18.0" height="8.3" fill="#808080"/>
<rect x="288.90" y="1711.30" width="50.10" height="588.70" fill="#b4b4b4"/>
<rect x="290.10" y="1711.80" width="48.10" height="588.20" fill="#808080"/>
<rect x="370.95" y="1695.80" width="8.0" height="10.50" fill="#808080"/>
<rect x="365.95" y="1695.80" width="18.0" height="8.3" fill="#808080"/>
<g transform="translate(350.80 2300.00)"><rect x="4.00" y="-591.70" width="40.30" height="591.70" fill="url(#brickB)" stroke="#808080" stroke-width="8.0"/></g>
<rect x="432.25" y="1686.30" width="8.0" height="17.50" fill="#808080"/>
<rect x="427.25" y="1686.30" width="18.0" height="8.3" fill="#808080"/>
<g transform="translate(412.10 1701.80)"><rect x="4.00" y="4.00" width="40.30" height="594.20" fill="url(#upGB)" stroke="#808080" stroke-width="8.0"/></g>
<rect x="493.55" y="1673.30" width="8.0" height="15.00" fill="#808080"/>
<rect x="488.55" y="1673.30" width="18.0" height="8.3" fill="#808080"/>
<g transform="translate(473.40 2300.00)"><rect x="4.00" y="-609.70" width="40.30" height="609.70" fill="url(#downGB)" stroke="#808080" stroke-width="8.0"/></g>
<rect x="554.85" y="1701.30" width="8.0" height="10.00" fill="#333333"/>
<rect x="549.85" y="1701.30" width="18.0" height="8.3" fill="#333333"/>
<g transform="translate(534.70 1709.30)"><rect x="4.00" y="4.00" width="40.30" height="586.70" fill="url(#checkB)" stroke="#333333" stroke-width="8.0"/></g>
<rect x="616.15" y="1689.30" width="8.0" height="22.00" fill="#333333"/>
<rect x="611.15" y="1689.30" width="18.0" height="8.3" fill="#333333"/>
<g transform="translate(596.00 1709.30)"><rect x="4.00" y="4.00" width="40.30" height="586.70" fill="url(#upDB)" stroke="#333333" stroke-width="8.0"/></g>
<rect x="677.45" y="1689.30" width="8.0" height="19.50" fill="#333333"/>
<rect x="672.45" y="1689.30" width="18.0" height="8.3" fill="#333333"/>
<g transform="translate(657.30 2300.00)"><rect x="4.00" y="-589.20" width="40.30" height="589.20" fill="url(#downDB)" stroke="#333333" stroke-width="8.0"/></g>
<rect x="738.75" y="1697.50" width="8.0" height="8.80" fill="#808080"/>
<rect x="733.75" y="1697.50" width="18.0" height="8.3" fill="#808080"/>
<g transform="translate(718.60 2300.00)"><rect x="4.00" y="-591.70" width="40.30" height="591.70" fill="url(#brickB)" stroke="#808080" stroke-width="8.0"/></g>
<rect x="800.05" y="1676.30" width="8.0" height="12.00" fill="#808080"/>
<rect x="795.05" y="1676.30" width="18.0" height="8.3" fill="#808080"/>
<g transform="translate(779.90 1686.30)"><rect x="4.00" y="4.00" width="40.30" height="609.70" fill="url(#upGB)" stroke="#808080" stroke-width="8.0"/></g>
<rect x="800.05" y="1686.30" width="8.0" height="22.50" fill="#808080"/>
<rect x="795.05" y="1699.80" width="18.0" height="9.0" fill="#808080"/>
<rect x="861.35" y="1676.30" width="8.0" height="9.50" fill="#808080"/>
<rect x="856.35" y="1676.30" width="18.0" height="8.3" fill="#808080"/>
<g transform="translate(841.20 2300.00)"><rect x="4.00" y="-612.20" width="40.30" height="612.20" fill="url(#downGB)" stroke="#808080" stroke-width="8.0"/></g>
<rect x="922.65" y="1663.30" width="8.0" height="27.50" fill="#333333"/>
<rect x="917.65" y="1663.30" width="18.0" height="8.3" fill="#333333"/>
<g transform="translate(902.50 1688.80)"><rect x="4.00" y="4.00" width="40.30" height="607.20" fill="url(#checkB)" stroke="#333333" stroke-width="8.0"/></g>
<rect x="983.95" y="1668.30" width="8.0" height="25.50" fill="#333333"/>
<rect x="978.95" y="1668.30" width="18.0" height="8.3" fill="#333333"/>
<g transform="translate(963.80 1691.80)"><rect x="4.00" y="4.00" width="40.30" height="604.20" fill="url(#upDB)" stroke="#333333" stroke-width="8.0"/></g>
<rect x="1045.25" y="1689.30" width="8.0" height="19.50" fill="#333333"/>
<rect x="1040.25" y="1689.30" width="18.0" height="8.3" fill="#333333"/>
<g transform="translate(1025.10 2300.00)"><rect x="4.00" y="-589.20" width="40.30" height="589.20" fill="url(#downDB)" stroke="#333333" stroke-width="8.0"/></g>
<rect x="1106.55" y="1681.30" width="8.0" height="15.00" fill="#808080"/>
<rect x="1101.55" y="1681.30" width="18.0" height="8.3" fill="#808080"/>
<g transform="translate(1086.40 2300.00)"><rect x="4.00" y="-601.70" width="40.30" height="601.70" fill="url(#brickB)" stroke="#808080" stroke-width="8.0"/></g>
<rect x="1167.85" y="1676.30" width="8.0" height="12.00" fill="#808080"/>
<rect x="1162.85" y="1676.30" width="18.0" height="8.3" fill="#808080"/>
<g transform="translate(1147.70 1686.30)"><rect x="4.00" y="4.00" width="40.30" height="609.70" fill="url(#upGB)" stroke="#808080" stroke-width="8.0"/></g>
<rect x="1229.15" y="1673.80" width="8.0" height="12.00" fill="#808080"/>
<rect x="1224.15" y="1673.80" width="18.0" height="8.3" fill="#808080"/>
<g transform="translate(1209.00 2300.00)"><rect x="4.00" y="-612.20" width="40.30" height="612.20" fill="url(#downGB)" stroke="#808080" stroke-width="8.0"/></g>
<rect x="1290.45" y="1657.50" width="8.0" height="24.50" fill="#333333"/>
<rect x="1285.45" y="1657.50" width="18.0" height="8.3" fill="#333333"/>
<g transform="translate(1270.30 1680.00)"><rect x="4.00" y="4.00" width="40.30" height="616.00" fill="url(#checkB)" stroke="#333333" stroke-width="8.0"/></g>
<rect x="1351.75" y="1643.00" width="8.0" height="35.30" fill="#333333"/>
<rect x="1346.75" y="1643.00" width="18.0" height="8.3" fill="#333333"/>
<g transform="translate(1331.60 1676.30)"><rect x="4.00" y="4.00" width="40.30" height="619.70" fill="url(#upDB)" stroke="#333333" stroke-width="8.0"/></g>
<rect x="1413.05" y="1690.00" width="8.0" height="23.80" fill="#333333"/>
<rect x="1408.05" y="1690.00" width="18.0" height="8.3" fill="#333333"/>
<g transform="translate(1392.90 2300.00)"><rect x="4.00" y="-584.20" width="40.30" height="584.20" fill="url(#downDB)" stroke="#333333" stroke-width="8.0"/></g>
<rect x="269.00" y="1461.30" width="8.00" height="845.20" fill="#000"/>
<rect x="250.00" y="2298.00" width="1214.30" height="8.50" fill="#000"/>
<rect x="250.00" y="1461.30" width="21.00" height="8.20" fill="#000"/>
<rect x="250.00" y="1670.00" width="21.00" height="8.20" fill="#000"/>
<rect x="250.00" y="1879.40" width="21.00" height="8.20" fill="#000"/>
<rect x="250.00" y="2088.50" width="21.00" height="8.20" fill="#000"/>
<rect x="310.00" y="2305.00" width="8.00" height="20.00" fill="#000"/>
<rect x="371.30" y="2305.00" width="8.00" height="20.00" fill="#000"/>
<rect x="432.60" y="2305.00" width="8.00" height="20.00" fill="#000"/>
<rect x="493.90" y="2305.00" width="8.00" height="20.00" fill="#000"/>
<rect x="555.20" y="2305.00" width="8.00" height="20.00" fill="#000"/>
<rect x="616.50" y="2305.00" width="8.00" height="20.00" fill="#000"/>
<rect x="677.80" y="2305.00" width="8.00" height="20.00" fill="#000"/>
<rect x="739.10" y="2305.00" width="8.00" height="20.00" fill="#000"/>
<rect x="800.40" y="2305.00" width="8.00" height="20.00" fill="#000"/>
<rect x="861.70" y="2305.00" width="8.00" height="20.00" fill="#000"/>
<rect x="923.00" y="2305.00" width="8.00" height="20.00" fill="#000"/>
<rect x="984.30" y="2305.00" width="8.00" height="20.00" fill="#000"/>
<rect x="1045.60" y="2305.00" width="8.00" height="20.00" fill="#000"/>
<rect x="1106.90" y="2305.00" width="8.00" height="20.00" fill="#000"/>
<rect x="1168.20" y="2305.00" width="8.00" height="20.00" fill="#000"/>
<rect x="1229.50" y="2305.00" width="8.00" height="20.00" fill="#000"/>
<rect x="1290.80" y="2305.00" width="8.00" height="20.00" fill="#000"/>
<rect x="1352.10" y="2305.00" width="8.00" height="20.00" fill="#000"/>
<rect x="1413.40" y="2305.00" width="8.00" height="20.00" fill="#000"/>
<text x="208.00" y="1488.30" font-family="'Liberation Sans', Arial, Helvetica, sans-serif" font-size="68" font-weight="bold" fill="#000" textLength="34.05" lengthAdjust="spacingAndGlyphs" stroke="#fff" stroke-width="1.2">8</text>
<text x="207.95" y="1697.00" font-family="'Liberation Sans', Arial, Helvetica, sans-serif" font-size="68" font-weight="bold" fill="#000" textLength="35.08" lengthAdjust="spacingAndGlyphs" stroke="#fff" stroke-width="1.2">6</text>
<text x="208.95" y="1906.40" font-family="'Liberation Sans', Arial, Helvetica, sans-serif" font-size="68" font-weight="bold" fill="#000" textLength="32.15" lengthAdjust="spacingAndGlyphs" stroke="#fff" stroke-width="1.2">4</text>
<text x="207.95" y="2115.50" font-family="'Liberation Sans', Arial, Helvetica, sans-serif" font-size="68" font-weight="bold" fill="#000" textLength="35.08" lengthAdjust="spacingAndGlyphs" stroke="#fff" stroke-width="1.2">2</text>
<text x="206.93" y="2324.50" font-family="'Liberation Sans', Arial, Helvetica, sans-serif" font-size="68" font-weight="bold" fill="#000" textLength="36.17" lengthAdjust="spacingAndGlyphs" stroke="#fff" stroke-width="1.2">0</text>
<text transform="translate(167.00 1930.80) rotate(-90)" x="0" y="0" font-family="'Liberation Sans', Arial, Helvetica, sans-serif" font-size="70" font-weight="bold" fill="#333" textLength="89.65" lengthAdjust="spacingAndGlyphs">pH</text>
<text transform="translate(327.50 2642.78) rotate(-90)" x="0" y="0" font-family="'Liberation Sans', Arial, Helvetica, sans-serif" font-size="43.5" font-weight="bold" fill="#000" textLength="311.71" lengthAdjust="spacingAndGlyphs">Skin_untreated</text>
<path d="M375.30 2332.00 V2369.15 H679.00 V2332.00" fill="none" stroke="#000" stroke-width="8.0" stroke-linejoin="miter"/>
<path d="M745.30 2328.00 V2366.65 H1049.00 V2328.00" fill="none" stroke="#000" stroke-width="8.0" stroke-linejoin="miter"/>
<path d="M1111.00 2335.80 V2373.40 H1414.80 V2335.80" fill="none" stroke="#000" stroke-width="8.0" stroke-linejoin="miter"/>
<text x="476.63" y="2445.00" font-family="'Liberation Sans', Arial, Helvetica, sans-serif" font-size="64" font-weight="bold" fill="#000" textLength="82.57" lengthAdjust="spacingAndGlyphs">1 h</text>
<text x="851.70" y="2442.60" font-family="'Liberation Sans', Arial, Helvetica, sans-serif" font-size="64" font-weight="bold" fill="#000" textLength="83.01" lengthAdjust="spacingAndGlyphs">2 h</text>
<text x="1220.79" y="2441.60" font-family="'Liberation Sans', Arial, Helvetica, sans-serif" font-size="64" font-weight="bold" fill="#000" textLength="83.85" lengthAdjust="spacingAndGlyphs">4 h</text>
<rect x="1489.80" y="1767.20" width="91.90" height="33.40" fill="#b4b4b4"/>
<rect x="1489.80" y="1768.20" width="91.90" height="31.40" fill="#808080"/>
<text x="1625.36" y="1805.00" font-family="'Liberation Sans', Arial, Helvetica, sans-serif" font-size="54.4" font-weight="normal" fill="#000" textLength="346.63" lengthAdjust="spacingAndGlyphs">Skin_untreated</text>
<rect x="1489.80" y="1834.80" width="91.90" height="32.60" fill="#808080"/>
<g transform="translate(1497.50 1842.50)"><rect x="0" y="0" width="76.50" height="15.40" fill="url(#brickBL)"/></g>
<text x="1626.04" y="1872.20" font-family="'Liberation Sans', Arial, Helvetica, sans-serif" font-size="54.4" font-weight="normal" fill="#000" textLength="281.11" lengthAdjust="spacingAndGlyphs">NP_w/o_EO</text>
<rect x="1489.80" y="1906.20" width="91.90" height="31.90" fill="#808080"/>
<g transform="translate(1497.50 1913.90)"><rect x="0" y="0" width="76.50" height="15.40" fill="url(#upGBL)"/></g>
<text x="1625.97" y="1943.30" font-family="'Liberation Sans', Arial, Helvetica, sans-serif" font-size="54.4" font-weight="normal" fill="#000" textLength="465.54" lengthAdjust="spacingAndGlyphs">NC-EO-<tspan font-style="italic">R. officinalis</tspan></text>
<rect x="1489.80" y="1978.10" width="91.90" height="30.20" fill="#808080"/>
<g transform="translate(1497.50 2001.20)"><rect x="0" y="-15.40" width="76.50" height="15.40" fill="url(#downGBL)"/></g>
<text x="1626.05" y="2013.90" font-family="'Liberation Sans', Arial, Helvetica, sans-serif" font-size="54.4" font-weight="normal" fill="#000" textLength="419.12" lengthAdjust="spacingAndGlyphs">NC_EO-<tspan font-style="italic">L. dentata</tspan></text>
<rect x="1489.80" y="2047.00" width="91.90" height="32.60" fill="#333333"/>
<g transform="translate(1497.50 2056.60)"><rect x="0" y="0" width="76.50" height="15.10" fill="url(#checkBL)"/></g>
<text x="1626.00" y="2085.60" font-family="'Liberation Sans', Arial, Helvetica, sans-serif" font-size="54.4" font-weight="normal" fill="#000" textLength="290.20" lengthAdjust="spacingAndGlyphs">EM_w/o_EO</text>
<rect x="1489.80" y="2118.40" width="91.90" height="32.70" fill="#333333"/>
<g transform="translate(1497.50 2126.10)"><rect x="0" y="0" width="76.50" height="15.40" fill="url(#upDBL)"/></g>
<text x="1625.93" y="2157.10" font-family="'Liberation Sans', Arial, Helvetica, sans-serif" font-size="54.4" font-weight="normal" fill="#000" textLength="484.96" lengthAdjust="spacingAndGlyphs">EM_EO-<tspan font-style="italic">R. officinalis</tspan></text>
<rect x="1489.80" y="2189.90" width="91.90" height="32.70" fill="#333333"/>
<g transform="translate(1497.50 2213.00)"><rect x="0" y="-15.40" width="76.50" height="15.40" fill="url(#downDBL)"/></g>
<text x="1626.00" y="2227.80" font-family="'Liberation Sans', Arial, Helvetica, sans-serif" font-size="54.4" font-weight="normal" fill="#000" textLength="427.42" lengthAdjust="spacingAndGlyphs">EM_EO-<tspan font-style="italic">L. dentata</tspan></text>
<text x="1730.2" y="1579" font-family="'Liberation Serif', 'Times New Roman', Times, serif" font-weight="bold" font-size="90" stroke="#fff" stroke-width="1"><tspan font-size="85" dy="-7.0">(</tspan><tspan dy="7.0" dx="-0.2">B</tspan><tspan font-size="85" dy="-7.0" dx="3.6">)</tspan></text>
</g>
</g>
</svg></body></html>
